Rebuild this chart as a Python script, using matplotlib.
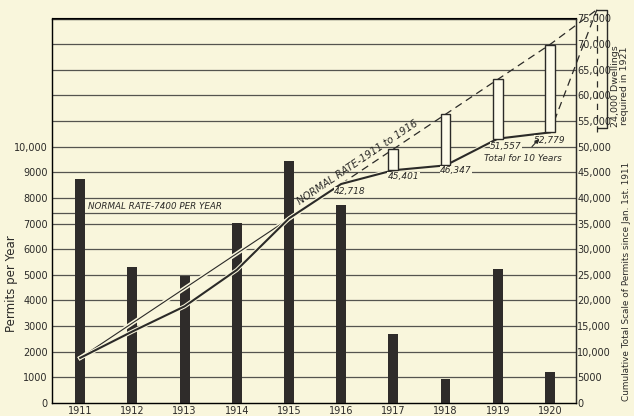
import matplotlib
matplotlib.use('Agg')
import matplotlib.pyplot as plt
import matplotlib.patheffects as pe
from matplotlib.patches import Rectangle

# permits issued per year (left scale)
years = [1911, 1912, 1913, 1914, 1915, 1916, 1917, 1918, 1919, 1920]
permits = [8730, 5320, 4970, 7010, 9440, 7710, 2683, 946, 5210, 1222]

# cumulative total line as drawn (right scale)
cumulative = [8800, 13950, 18850, 25950, 36000, 42718, 45401, 46347, 51557, 52779]
cum_labels = ['42,718', '45,401', '46,347', '51,557', '52,779']

# normal rate 1911-1916, carried on to 1921
normal_years = [1911, 1916]
normal_vals = [8800, 42718]
projected_years = [1916, 1917, 1918, 1919, 1920, 1920.9]
projected_vals = [42718, 49518, 56318, 63118, 69918, 76718]
normal_rate_year = 7400
required_1921 = 76718

left_ticks = list(range(0, 11000, 1000))
left_labels = ['0', '1000', '2000', '3000', '4000', '5000', '6000', '7000', '8000', '9000', '10,000']
right_ticks = list(range(0, 80000, 5000))
right_labels = ['0', '5000'] + ['{:,}'.format(v) for v in right_ticks[2:]]

bg = '#f9f6dc'
ink = '#2b2a28'
grid = '#55544f'

fig = plt.figure(figsize=(6.34, 4.16), dpi=100, facecolor=bg)
ax = fig.add_axes([52 / 634, 13 / 416, 524 / 634, 384.5 / 416])
ax.set_facecolor(bg)
ax.set_xlim(1910.46, 1920.5)
ax.set_ylim(0, 15000)

for v in range(1000, 15000, 1000):
    ax.axhline(v, color=grid, lw=0.9, zorder=1)
ax.axhline(normal_rate_year, color=grid, lw=0.9, zorder=1)

ax.bar(years, permits, width=0.19, color='#2f2c2a', zorder=2)

ax.set_yticks(left_ticks)
ax.set_yticklabels(left_labels)
ax.set_xticks(years)
ax.set_xticklabels([str(y) for y in years])
ax.tick_params(axis='y', length=0, pad=3, labelsize=7, colors=ink)
ax.tick_params(axis='x', length=0, pad=2, labelsize=7, colors=ink)
for s in ax.spines.values():
    s.set_color(ink)
    s.set_linewidth(1.0)
ax.set_ylabel('Permits per Year', fontsize=8.5, color=ink)
ax.yaxis.set_label_coords(-0.064, 0.31)

ax.text(1911.15, normal_rate_year + 80, 'NORMAL RATE-7400 PER YEAR', fontsize=6.3,
        style='italic', color=ink, ha='left', va='bottom', zorder=3)

ax2 = ax.twinx()
ax2.set_ylim(0, 75000)
ax2.set_yticks(right_ticks)
ax2.set_yticklabels(right_labels)
ax2.tick_params(axis='y', length=0, pad=1, labelsize=7, colors=ink)
ax2.spines['right'].set_color(ink)
ax2.set_ylabel('Cumulative Total Scale of Permits since Jan. 1st. 1911', fontsize=6.4, color=ink)
ax2.yaxis.set_label_coords(1.088, 0.317)

stroke = [pe.withStroke(linewidth=3.0, foreground=bg)]
ax2.plot(normal_years, normal_vals, color=ink, lw=0.8, zorder=3, path_effects=stroke)
ax2.plot(years, cumulative, color=ink, lw=1.5, zorder=4, path_effects=stroke)
ax2.plot(projected_years, projected_vals, color=ink, lw=0.9, ls=(0, (6, 4)),
         zorder=3, clip_on=False)

# shortage boxes between actual total and normal rate
for y, c, n in zip(years[6:], cumulative[6:], projected_vals[1:5]):
    ax2.add_patch(Rectangle((y - 0.095, c), 0.19, n - c, facecolor='#fdfbea',
                            edgecolor=ink, lw=1.0, zorder=5))

# 1921 requirement
x21 = projected_years[-1]
ax2.plot([years[-1], x21], [cumulative[-1], required_1921], color=ink, lw=0.9,
         ls=(0, (6, 4)), zorder=3, clip_on=False)
ax2.plot([x21, x21], [cumulative[-1], required_1921], color=ink, lw=0.9,
         ls=(0, (5, 4)), zorder=3, clip_on=False)
ax2.plot([x21, x21 + 0.2, x21 + 0.2, x21 + 0.02],
         [required_1921, required_1921, cumulative[-1] + 900, cumulative[-1] + 900],
         color=ink, lw=1.0, zorder=3, clip_on=False)
fig.text(620 / 634, 1 - 86 / 416, '24,000 Dwellings\nrequired in 1921', rotation=90,
         fontsize=6.8, color=ink, ha='center', va='center', linespacing=0.95)

lab_pos = [(1916.17, 41160), (1917.19, 44090), (1918.2, 45260), (1919.16, 49940), (1920.0, 51300)]
for (lx, ly), t in zip(lab_pos, cum_labels):
    ax2.text(lx, ly, t, fontsize=6.5, style='italic', color=ink, ha='center', va='center',
             zorder=6, bbox=dict(boxstyle='square,pad=0.05', fc=bg, ec='none'))

ax2.text(1919.49, 47600, 'Total for 10 Years', fontsize=6.5, style='italic', color=ink,
         ha='center', va='center', zorder=6,
         bbox=dict(boxstyle='square,pad=0.05', fc=bg, ec='none'))
ax2.annotate('', xy=(1919.83, 51900), xytext=(1919.62, 49600),
             arrowprops=dict(arrowstyle='-|>', color=ink, lw=0.8, mutation_scale=6), zorder=6)

ax2.text(1916.31, 46820, 'NORMAL RATE-1911 to 1916', fontsize=7.2, style='italic', color=ink,
         rotation=34, rotation_mode='anchor', ha='center', va='center', zorder=6)

fig.savefig('out.png', dpi=100, facecolor=bg)
